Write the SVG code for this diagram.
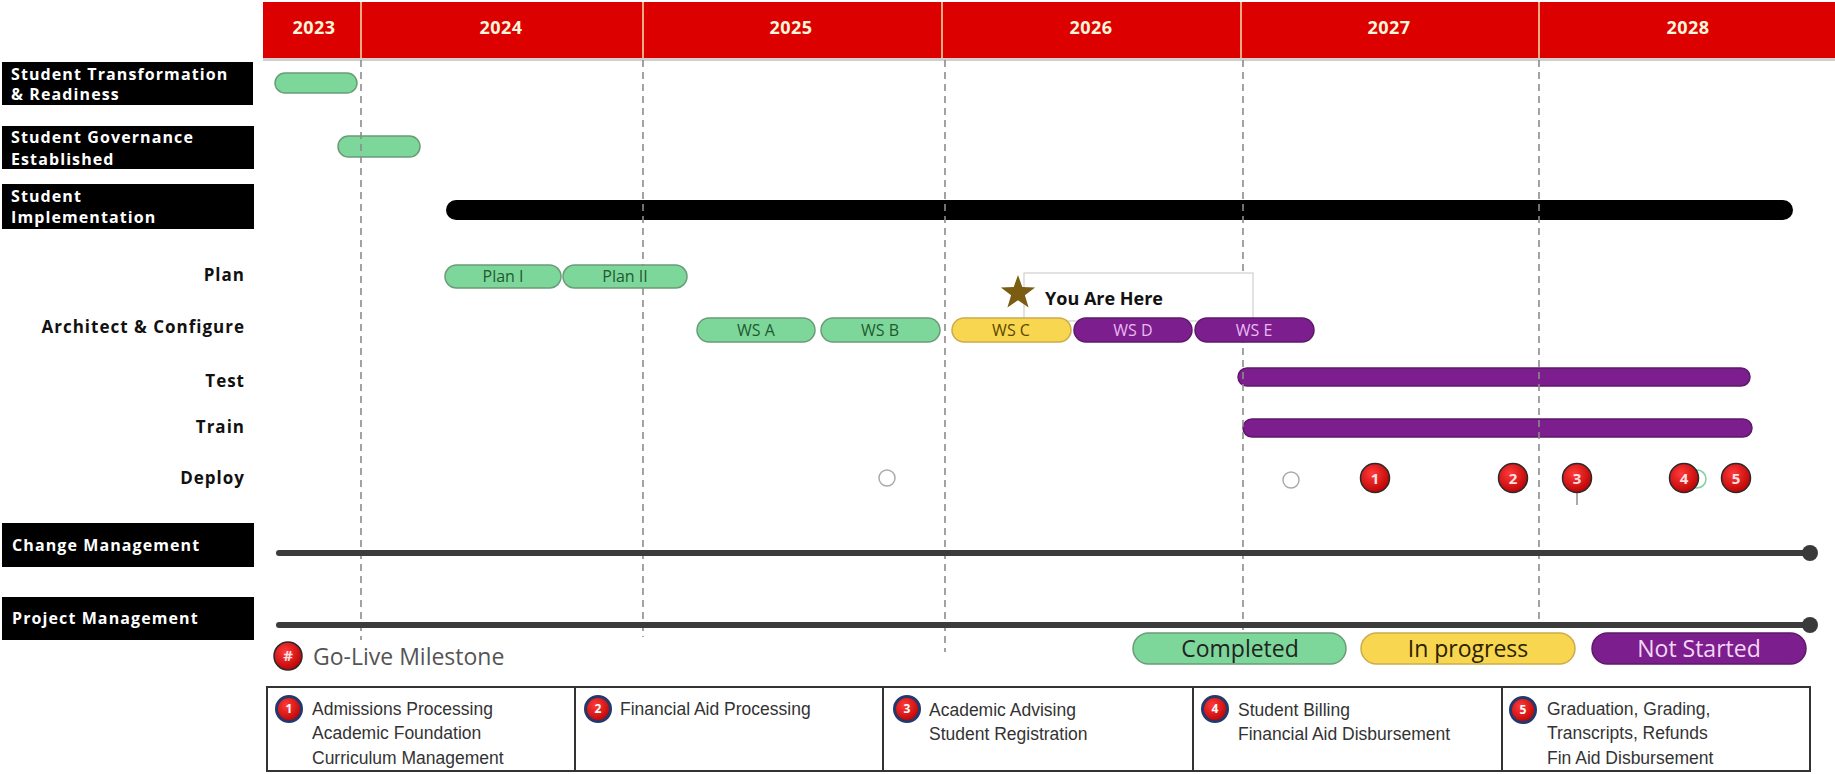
<svg xmlns="http://www.w3.org/2000/svg" width="1835" height="774" viewBox="0 0 1835 774">
<defs>
<radialGradient id="redg" cx="0.4" cy="0.35" r="0.7">
<stop offset="0" stop-color="#ff3b3b"/>
<stop offset="1" stop-color="#b80000"/>
</radialGradient>
</defs>
<style>
.year{font-family:"Open Sans",sans-serif;font-weight:700;font-size:18px;fill:#fff6dc;text-anchor:middle;letter-spacing:0.5px}
.lbl{font-family:"Open Sans",sans-serif;font-weight:700;font-size:16px;fill:#fff;letter-spacing:1.1px}
.row{font-family:"Open Sans",sans-serif;font-weight:700;font-size:17px;fill:#111;text-anchor:end;letter-spacing:1px}
.green{fill:#7dd79a;stroke:#6a9c78;stroke-width:1.5}
.yellow{fill:#f8d650;stroke:#c9ad4a;stroke-width:1.5}
.purple{fill:#7c1e8d;stroke:#5e1a6a;stroke-width:1.5}
.pilltxt{font-family:"Open Sans",sans-serif;font-size:16px;text-anchor:middle}
.gtxt{fill:#1f5a31}
.ytxt{fill:#5b4800}
.ptxt{fill:#e9b9f2}
.grid{stroke:#8c8c8c;stroke-width:1.6;stroke-dasharray:7 5;fill:none}
.hdiv{stroke:#f6e4b0;stroke-width:1.5}
.ms{fill:url(#redg);stroke:#2a2a2a;stroke-width:1.5}
.mstxt{font-family:"Open Sans",sans-serif;font-weight:700;font-size:15px;fill:#ffe0e0;text-anchor:middle}
.tms{fill:url(#redg);stroke:#25386b;stroke-width:3}
.tmstxt{font-family:"Open Sans",sans-serif;font-weight:700;font-size:12px;fill:#fff;text-anchor:middle}
.ttxt{font-family:"Liberation Sans",Arial,sans-serif;font-size:17.5px;fill:#333}
.leg{font-family:"Open Sans",sans-serif;font-size:23px;text-anchor:middle}
.hollow{fill:#fff;stroke:#aaa;stroke-width:1.5}
.mgmt{stroke:#3c3c3c;stroke-width:6;stroke-linecap:round}
</style>
<rect width="1835" height="774" fill="#fff"/>

<g id="header">
<rect x="263" y="58" width="1572" height="3" fill="#cfcfcf"/>
<rect x="263" y="2" width="1572" height="56" fill="#dd0000"/>
<line class="hdiv" x1="361" y1="2" x2="361" y2="58"/>
<line class="hdiv" x1="643" y1="2" x2="643" y2="58"/>
<line class="hdiv" x1="942" y1="2" x2="942" y2="58"/>
<line class="hdiv" x1="1241" y1="2" x2="1241" y2="58"/>
<line class="hdiv" x1="1539" y1="2" x2="1539" y2="58"/>
<text class="year" x="314" y="34">2023</text>
<text class="year" x="501" y="34">2024</text>
<text class="year" x="791" y="34">2025</text>
<text class="year" x="1091" y="34">2026</text>
<text class="year" x="1389" y="34">2027</text>
<text class="year" x="1688" y="34">2028</text>
</g>

<g id="label-transformation">
<rect x="2" y="62" width="251" height="43" fill="#000"/>
<text class="lbl" x="11" y="80">Student Transformation</text>
<text class="lbl" x="11" y="100">&amp; Readiness</text>
</g>
<g id="label-governance">
<rect x="2" y="126" width="252" height="43" fill="#000"/>
<text class="lbl" x="11" y="143">Student Governance</text>
<text class="lbl" x="11" y="165">Established</text>
</g>
<g id="label-implementation">
<rect x="2" y="184" width="252" height="45" fill="#000"/>
<text class="lbl" x="11" y="202">Student</text>
<text class="lbl" x="11" y="223">Implementation</text>
</g>
<g id="label-change">
<rect x="2" y="523" width="252" height="44" fill="#000"/>
<text class="lbl" x="12" y="551">Change Management</text>
</g>
<g id="label-project">
<rect x="2" y="597" width="252" height="43" fill="#000"/>
<text class="lbl" x="12" y="624">Project Management</text>
</g>

<g id="row-labels">
<text class="row" x="245" y="281">Plan</text>
<text class="row" x="245" y="333">Architect &amp; Configure</text>
<text class="row" x="245" y="387">Test</text>
<text class="row" x="245" y="433">Train</text>
<text class="row" x="245" y="484">Deploy</text>
</g>

<g id="bar-transformation"><rect class="green" x="275" y="73" width="82" height="20" rx="10"/></g>
<g id="bar-governance"><rect class="green" x="338" y="136" width="82" height="21" rx="10.5"/></g>
<g id="bar-implementation"><rect x="446" y="200" width="1347" height="20" rx="10" fill="#000"/></g>
<g id="bar-test"><rect class="purple" x="1238" y="368" width="512" height="18" rx="9"/></g>
<g id="bar-train"><rect class="purple" x="1243" y="419" width="509" height="18" rx="9"/></g>

<g id="connectors">
<line class="grid" x1="361" y1="60" x2="361" y2="640"/>
<line class="grid" x1="643" y1="60" x2="643" y2="637"/>
<line class="grid" x1="945" y1="60" x2="945" y2="652"/>
<line class="grid" x1="1243" y1="60" x2="1243" y2="630"/>
<line class="grid" x1="1539" y1="60" x2="1539" y2="627"/>
<line class="mgmt" x1="279" y1="553" x2="1808" y2="553"/>
<line class="mgmt" x1="279" y1="625" x2="1808" y2="625"/>
<circle cx="1810" cy="553" r="8" fill="#3a3a3a"/>
<circle cx="1810" cy="625" r="8" fill="#3a3a3a"/>
</g>

<g id="plan-1"><rect class="green" x="445" y="265" width="116" height="23" rx="11.5"/><text class="pilltxt gtxt" x="503" y="282">Plan I</text></g>
<g id="plan-2"><rect class="green" x="563" y="265" width="124" height="23" rx="11.5"/><text class="pilltxt gtxt" x="625" y="282">Plan II</text></g>

<g id="you-are-here">
<rect x="1024" y="273" width="229" height="48" fill="#fff" stroke="#cfcfcf" stroke-width="1.2"/>
<polygon points="1018,275 1022.3,287.1 1035.1,287.4 1024.9,295.3 1028.6,307.6 1018,300.3 1007.4,307.6 1011.1,295.3 1000.9,287.4 1013.7,287.1" fill="#7a5c12"/>
<text x="1045" y="305" font-family="Open Sans, sans-serif" font-weight="700" font-size="18" fill="#111">You Are Here</text>
</g>

<g id="ws-a"><rect class="green" x="697" y="318" width="118" height="24" rx="12"/><text class="pilltxt gtxt" x="756" y="336">WS A</text></g>
<g id="ws-b"><rect class="green" x="821" y="318" width="119" height="24" rx="12"/><text class="pilltxt gtxt" x="880" y="336">WS B</text></g>
<g id="ws-c"><rect class="yellow" x="952" y="318" width="119" height="24" rx="12"/><text class="pilltxt ytxt" x="1011" y="336">WS C</text></g>
<g id="ws-d"><rect class="purple" x="1074" y="318" width="118" height="24" rx="12"/><text class="pilltxt ptxt" x="1133" y="336">WS D</text></g>
<g id="ws-e"><rect class="purple" x="1195" y="318" width="119" height="24" rx="12"/><text class="pilltxt ptxt" x="1254" y="336">WS E</text></g>

<g id="deploy">
<circle class="hollow" cx="887" cy="478" r="8"/>
<circle class="hollow" cx="1291" cy="480" r="8"/>
<circle cx="1697" cy="479" r="9" fill="#fff" stroke="#7fcf9a" stroke-width="1.5"/>
<line x1="1577" y1="493" x2="1577" y2="505" stroke="#aaa" stroke-width="2"/>
<circle class="ms" cx="1375" cy="478" r="14.5"/><text class="mstxt" x="1375" y="484">1</text>
<circle class="ms" cx="1513" cy="478" r="14.5"/><text class="mstxt" x="1513" y="484">2</text>
<circle class="ms" cx="1577" cy="478" r="14.5"/><text class="mstxt" x="1577" y="484">3</text>
<circle class="ms" cx="1684" cy="478" r="14.5"/><text class="mstxt" x="1684" y="484">4</text>
<circle class="ms" cx="1736" cy="478" r="14.5"/><text class="mstxt" x="1736" y="484">5</text>
</g>

<g id="legend-golive">
<circle class="ms" cx="288" cy="656" r="14"/><text class="mstxt" x="288" y="661" font-size="12">#</text>
<text x="313" y="665" font-family="Open Sans, sans-serif" font-size="23" fill="#555">Go-Live Milestone</text>
</g>
<g id="legend-completed"><rect class="green" x="1133" y="633" width="213" height="31" rx="15.5"/><text class="leg" x="1240" y="657" fill="#222">Completed</text></g>
<g id="legend-inprogress"><rect class="yellow" x="1361" y="633" width="214" height="31" rx="15.5"/><text class="leg" x="1468" y="657" fill="#2a2200">In progress</text></g>
<g id="legend-notstarted"><rect class="purple" x="1592" y="633" width="214" height="31" rx="15.5"/><text class="leg" x="1699" y="657" fill="#f3d6f6">Not Started</text></g>

<g id="milestone-table">
<rect x="267" y="687" width="1543" height="84" fill="#fff" stroke="#333" stroke-width="2"/>
<line x1="575" y1="687" x2="575" y2="771" stroke="#333" stroke-width="2"/>
<line x1="883" y1="687" x2="883" y2="771" stroke="#333" stroke-width="2"/>
<line x1="1193" y1="687" x2="1193" y2="771" stroke="#333" stroke-width="2"/>
<line x1="1502" y1="687" x2="1502" y2="771" stroke="#333" stroke-width="2"/>
</g>
<g id="table-1">
<circle class="tms" cx="289" cy="709" r="12.5"/><text class="tmstxt" x="289" y="713">1</text>
<text class="ttxt" x="312" y="715">Admissions Processing</text>
<text class="ttxt" x="312" y="739">Academic Foundation</text>
<text class="ttxt" x="312" y="764">Curriculum Management</text>
</g>
<g id="table-2">
<circle class="tms" cx="598" cy="709" r="12.5"/><text class="tmstxt" x="598" y="713">2</text>
<text class="ttxt" x="620" y="715">Financial Aid Processing</text>
</g>
<g id="table-3">
<circle class="tms" cx="907" cy="709" r="12.5"/><text class="tmstxt" x="907" y="713">3</text>
<text class="ttxt" x="929" y="716">Academic Advising</text>
<text class="ttxt" x="929" y="740">Student Registration</text>
</g>
<g id="table-4">
<circle class="tms" cx="1215" cy="709" r="12.5"/><text class="tmstxt" x="1215" y="713">4</text>
<text class="ttxt" x="1238" y="716">Student Billing</text>
<text class="ttxt" x="1238" y="740">Financial Aid Disbursement</text>
</g>
<g id="table-5">
<circle class="tms" cx="1523" cy="710" r="12.5"/><text class="tmstxt" x="1523" y="714">5</text>
<text class="ttxt" x="1547" y="715">Graduation, Grading,</text>
<text class="ttxt" x="1547" y="739">Transcripts, Refunds</text>
<text class="ttxt" x="1547" y="764">Fin Aid Disbursement</text>
</g>
</svg>
